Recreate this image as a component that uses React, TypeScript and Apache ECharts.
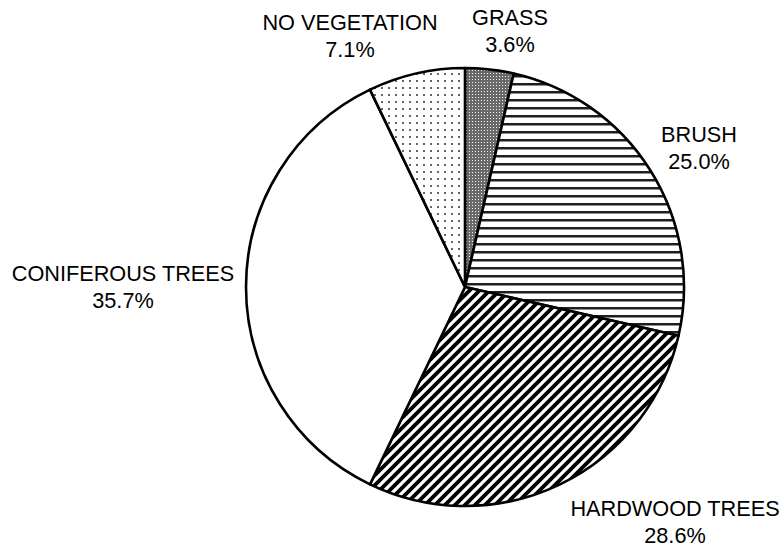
import React, { useEffect, useRef } from "react";
import * as echarts from "echarts";

const categories = ["GRASS", "BRUSH", "HARDWOOD TREES", "CONIFEROUS TREES", "NO VEGETATION"];
const values = [1, 7, 8, 10, 2];

// label anchor centres (page px) for each slice's text block
const labelAnchors: [number, number][] = [
  [510, 31],
  [699, 148],
  [675, 522],
  [123, 287],
  [350, 36],
];

function tile(w: number, h: number, draw: (ctx: CanvasRenderingContext2D) => void) {
  const c = document.createElement("canvas");
  c.width = w;
  c.height = h;
  const ctx = c.getContext("2d")!;
  ctx.fillStyle = "#fff";
  ctx.fillRect(0, 0, w, h);
  draw(ctx);
  return { image: c.toDataURL(), repeat: "repeat", imageWidth: w, imageHeight: h } as any;
}

export default function App() {
  const ref = useRef<HTMLDivElement>(null);
  useEffect(() => {
    if (!ref.current) return;
    const chart = echarts.init(ref.current, undefined, { renderer: "svg" });

    const grass = tile(3, 3, (ctx) => {
      ctx.fillStyle = "#6a6a6a";
      ctx.fillRect(0, 0, 3, 3);
      ctx.fillStyle = "#f4f4f4";
      ctx.fillRect(1, 1, 1, 1);
    });
    const brush = tile(8, 8, (ctx) => {
      ctx.fillStyle = "#1e1e1e";
      ctx.fillRect(0, 3, 8, 2.5);
    });
    const hardwood = tile(10, 10, (ctx) => {
      ctx.strokeStyle = "#000";
      ctx.lineWidth = 3.8;
      ctx.beginPath();
      ctx.moveTo(-2, 12);
      ctx.lineTo(12, -2);
      ctx.moveTo(-2, 2);
      ctx.lineTo(2, -2);
      ctx.moveTo(8, 12);
      ctx.lineTo(12, 8);
      ctx.stroke();
    });
    const noveg = tile(7, 7, (ctx) => {
      ctx.fillStyle = "#666";
      ctx.fillRect(3, 3, 2, 2);
    });
    const fills = [grass, brush, hardwood, "#ffffff", noveg];
    const total = values.reduce((a, b) => a + b, 0);

    chart.setOption({
      animation: false,
      backgroundColor: "#ffffff",
      series: [
        {
          type: "pie",
          center: [465, 287],
          radius: 219,
          startAngle: 90,
          clockwise: true,
          avoidLabelOverlap: false,
          data: categories.map((name, i) => ({
            name,
            value: values[i],
            itemStyle: { color: fills[i] },
          })),
          itemStyle: { borderColor: "#000", borderWidth: 2.6 },
          emphasis: { disabled: true },
          label: {
            show: true,
            position: "outside",
            formatter: (p: any) => `${p.name}\n${((p.value / total) * 100).toFixed(1)}%`,
            fontFamily: "Liberation Sans, Arial, sans-serif",
            fontSize: 21.7,
            lineHeight: 27,
            color: "#000",
            align: "center",
          },
          labelLine: { show: false },
          labelLayout: (params: any) => {
            const a = labelAnchors[params.dataIndex];
            return { x: a[0], y: a[1], align: "center", verticalAlign: "middle" };
          },
        },
      ],
    });
    return () => chart.dispose();
  }, []);
  return (
    <div
      ref={ref}
      style={{ position: "fixed", left: 0, top: 0, width: 784, height: 550, background: "#fff" }}
    />
  );
}
